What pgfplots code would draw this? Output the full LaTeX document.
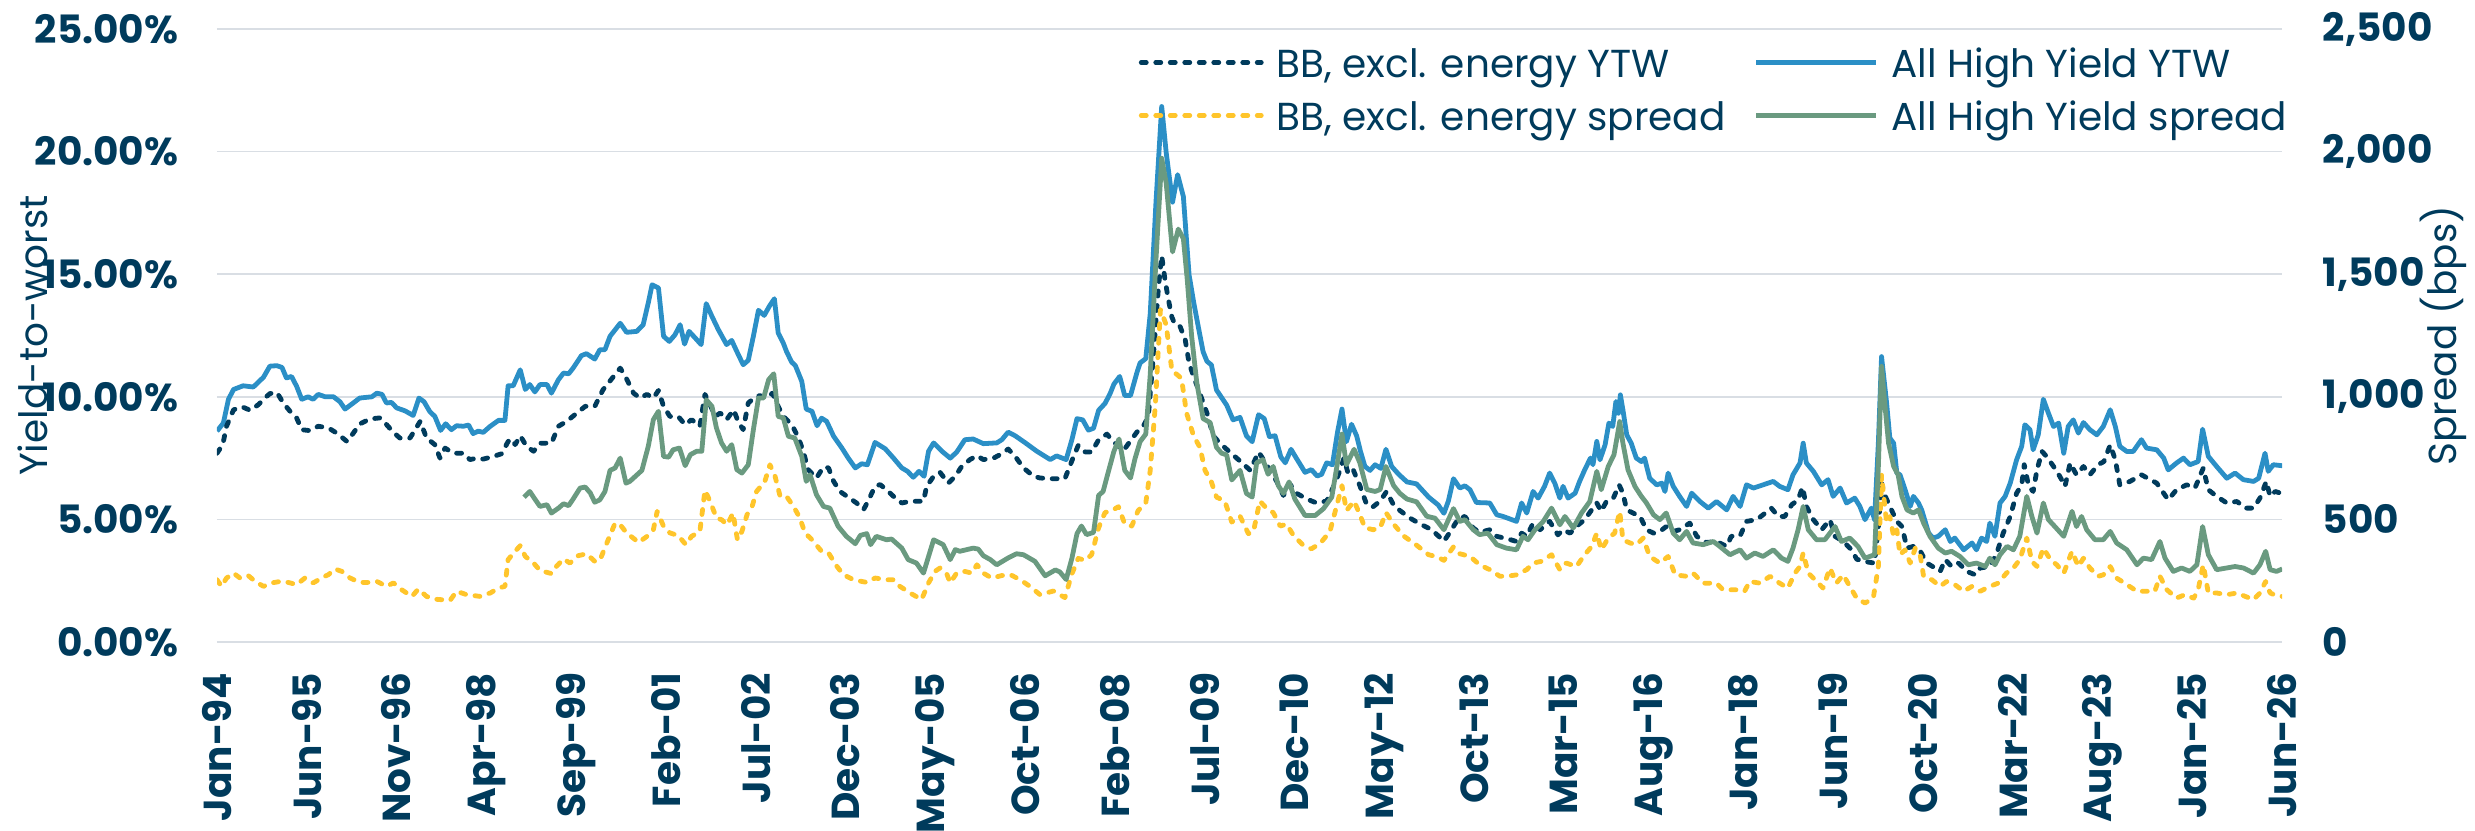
\documentclass[border=0pt]{standalone}
\usepackage{fontspec}
\setmainfont{Poppins}
\usepackage{pgfplots}
\pgfplotsset{compat=1.18}
\definecolor{navy}{HTML}{003B5C}
\definecolor{hyblue}{HTML}{2B8FC6}
\definecolor{hygreen}{HTML}{6A9A80}
\definecolor{bbyellow}{HTML}{FFC52B}
\definecolor{gridgray}{HTML}{D9DEE4}
\newcommand{\chartfont}{\fontsize{11.1pt}{13pt}\selectfont}
\pgfplotsset{
  base/.style={
    scale only axis, width=206.5mm, height=61.3mm,
    xmin=1994, xmax=2026.4167,
    axis line style={draw=none}, tick style={draw=none}, major tick length=0pt,
    tick label style={inner sep=0pt, text=navy, font=\chartfont\bfseries},
    label style={inner sep=0pt, text=navy, font=\chartfont},
  },
  bbytw/.style={navy, line width=0.48mm, line cap=round, line join=round, dash pattern=on 0.5mm off 0.95mm},
  bbspr/.style={bbyellow, line width=0.48mm, line cap=round, line join=round, dash pattern=on 0.5mm off 0.95mm},
  hyytw/.style={hyblue, line width=0.48mm, line join=round},
  hyspr/.style={hygreen, line width=0.48mm, line join=round},
}
\begin{document}
\begin{tikzpicture}
\begin{axis}[base,
  ymin=0, ymax=25,
  ytick={0,5,10,15,20,25},
  yticklabels={0.00\%,5.00\%,10.00\%,15.00\%,20.00\%,25.00\%},
  yticklabel shift=3.8mm,
  ymajorgrids, grid style={gridgray, line width=0.15mm},
  xtick={1994.000,1995.409,1996.819,1998.228,1999.638,2001.047,2002.457,2003.866,2005.275,2006.685,2008.094,2009.504,2010.913,2012.323,2013.732,2015.141,2016.551,2017.960,2019.370,2020.779,2022.188,2023.598,2025.007,2026.417},
  xticklabels={Jan-94,Jun-95,Nov-96,Apr-98,Sep-99,Feb-01,Jul-02,Dec-03,May-05,Oct-06,Feb-08,Jul-09,Dec-10,May-12,Oct-13,Mar-15,Aug-16,Jan-18,Jun-19,Oct-20,Mar-22,Aug-23,Jan-25,Jun-26},
  xticklabel style={rotate=90, anchor=east},
  xticklabel shift=3mm,
  ylabel={Yield-to-worst},
  ylabel style={at={(axis description cs:-0.0814,0.5)}, anchor=south},
]
% All High Yield YTW
\addplot[hyytw] coordinates {
(1994.00,8.6)(1994.10,8.93)(1994.18,9.9)(1994.26,10.3)(1994.41,10.45)(1994.57,10.4)(1994.73,10.8)(1994.83,11.25)(1994.94,11.27)(1995.02,11.2)(1995.09,10.77)(1995.17,10.83)(1995.25,10.43)(1995.33,9.9)(1995.43,10.0)(1995.51,9.9)(1995.59,10.1)(1995.70,10.0)(1995.83,10.0)(1995.93,9.8)(1996.01,9.5)(1996.14,9.75)(1996.24,9.95)(1996.43,10.0)(1996.51,10.15)(1996.59,10.1)(1996.66,9.75)(1996.74,9.77)(1996.82,9.55)(1996.95,9.43)(1997.08,9.24)(1997.17,9.95)(1997.25,9.8)(1997.34,9.4)(1997.42,9.2)(1997.51,8.63)(1997.59,8.9)(1997.68,8.66)(1997.76,8.82)(1997.87,8.8)(1997.95,8.85)(1998.02,8.5)(1998.10,8.6)(1998.18,8.55)(1998.29,8.8)(1998.42,9.04)(1998.52,9.04)(1998.57,10.45)(1998.65,10.45)(1998.76,11.1)(1998.84,10.3)(1998.91,10.5)(1998.99,10.2)(1999.07,10.5)(1999.18,10.5)(1999.25,10.15)(1999.36,10.7)(1999.44,10.97)(1999.52,10.94)(1999.59,11.17)(1999.72,11.68)(1999.80,11.76)(1999.93,11.54)(2000.01,11.92)(2000.09,11.92)(2000.17,12.47)
(2000.33,13.0)(2000.43,12.63)(2000.59,12.67)(2000.69,12.94)(2000.77,13.83)(2000.83,14.57)(2000.93,14.44)(2001.01,12.47)(2001.10,12.26)(2001.19,12.53)(2001.27,12.94)(2001.34,12.15)(2001.41,12.67)(2001.50,12.42)(2001.60,12.13)(2001.68,13.8)(2001.77,13.28)(2001.87,12.74)(2002.00,12.13)(2002.08,12.3)(2002.16,11.85)(2002.26,11.31)(2002.34,11.49)(2002.42,12.47)(2002.50,13.53)(2002.59,13.32)(2002.67,13.69)(2002.75,14.0)(2002.81,12.6)(2002.89,12.19)(2002.94,11.85)(2003.02,11.42)(2003.08,11.27)(2003.18,10.63)(2003.25,9.5)(2003.34,9.41)(2003.42,8.82)(2003.49,9.13)(2003.57,9.0)(2003.68,8.39)(2003.81,7.91)(2003.91,7.5)(2004.02,7.1)(2004.12,7.27)(2004.21,7.23)(2004.33,8.14)(2004.49,7.88)(2004.62,7.5)(2004.75,7.1)(2004.84,6.96)(2004.93,6.72)(2005.02,6.96)(2005.10,6.76)(2005.17,7.78)(2005.25,8.12)(2005.38,7.78)(2005.51,7.5)(2005.61,7.74)(2005.74,8.25)(2005.87,8.28)(2006.03,8.09)(2006.24,8.12)(2006.32,8.25)(2006.42,8.56)(2006.53,8.41)(2006.68,8.14)(2006.87,7.78)
(2007.08,7.44)(2007.18,7.59)(2007.33,7.44)(2007.42,8.25)(2007.50,9.11)(2007.59,9.06)(2007.68,8.64)(2007.76,8.72)(2007.84,9.45)(2007.94,9.73)(2008.02,10.13)(2008.08,10.52)(2008.17,10.83)(2008.25,10.05)(2008.34,10.05)(2008.44,10.98)(2008.49,11.38)(2008.58,11.56)(2008.65,13.4)(2008.74,17.94)(2008.83,21.84)(2008.90,19.97)(2009.00,17.94)(2009.08,19.06)(2009.17,18.17)(2009.22,16.38)(2009.26,14.97)(2009.33,13.88)(2009.41,12.78)(2009.48,11.84)(2009.54,11.45)(2009.61,11.3)(2009.69,10.28)(2009.77,9.97)(2009.85,9.66)(2009.95,9.06)(2010.06,9.16)(2010.16,8.41)(2010.25,8.17)(2010.35,9.27)(2010.44,9.11)(2010.52,8.38)(2010.61,8.41)(2010.70,7.55)(2010.77,7.31)(2010.86,7.86)(2010.95,7.47)(2011.08,6.92)(2011.18,7.03)(2011.27,6.77)(2011.34,6.84)(2011.42,7.31)(2011.51,7.23)(2011.59,8.56)(2011.66,9.5)(2011.73,8.17)(2011.81,8.88)(2011.89,8.41)(2011.95,7.78)(2012.02,7.16)(2012.10,7.0)(2012.18,7.23)(2012.27,7.08)(2012.35,7.86)(2012.44,7.16)(2012.55,6.84)(2012.68,6.53)(2012.83,6.45)(2013.02,5.91)(2013.17,5.59)(2013.26,5.25)(2013.33,5.75)(2013.41,6.66)
(2013.51,6.28)(2013.59,6.37)(2013.67,6.21)(2013.77,5.69)(2013.98,5.67)(2014.09,5.19)(2014.19,5.12)(2014.40,4.92)(2014.48,5.67)(2014.56,5.26)(2014.66,6.14)(2014.74,5.87)(2014.84,6.35)(2014.92,6.89)(2015.00,6.48)(2015.08,5.87)(2015.13,6.35)(2015.21,5.87)(2015.32,6.07)(2015.39,6.55)(2015.47,7.02)(2015.56,7.5)(2015.60,7.23)(2015.66,8.18)(2015.71,7.43)(2015.79,8.04)(2015.85,8.93)(2015.91,8.79)(2015.96,9.81)(2016.00,9.33)(2016.03,10.08)(2016.07,9.47)(2016.13,8.45)(2016.20,8.11)(2016.28,7.5)(2016.36,7.36)(2016.41,7.5)(2016.49,6.68)(2016.60,6.41)(2016.68,6.48)(2016.73,6.14)(2016.78,6.89)(2016.86,6.35)(2016.96,5.94)(2017.07,5.53)(2017.15,6.07)(2017.28,5.73)(2017.41,5.46)(2017.54,5.73)(2017.70,5.39)(2017.80,5.94)(2017.91,5.53)(2018.01,6.41)(2018.12,6.28)(2018.27,6.41)(2018.43,6.55)(2018.53,6.35)(2018.66,6.21)(2018.74,6.82)(2018.85,7.3)(2018.90,8.11)(2018.95,7.3)(2019.06,6.96)(2019.19,6.41)(2019.29,6.62)(2019.37,5.94)(2019.48,6.28)(2019.58,5.67)(2019.71,5.87)(2019.79,5.53)(2019.87,4.99)(2019.97,5.46)(2020.02,4.99)(2020.08,8.11)
(2020.13,11.64)(2020.21,9.74)(2020.26,8.32)(2020.32,8.11)(2020.37,6.89)(2020.42,6.82)(2020.50,6.21)(2020.58,5.53)(2020.63,5.94)(2020.71,5.67)(2020.76,5.39)(2020.87,4.44)(2020.94,4.24)(2021.02,4.31)(2021.13,4.58)(2021.21,4.1)(2021.28,4.24)(2021.42,3.76)(2021.55,4.04)(2021.62,3.76)(2021.70,4.24)(2021.78,4.1)(2021.83,4.85)(2021.91,4.31)(2021.99,5.67)(2022.07,5.94)(2022.15,6.48)(2022.25,7.43)(2022.33,7.98)(2022.38,8.86)(2022.46,8.66)(2022.51,7.84)(2022.59,8.45)(2022.67,9.9)(2022.75,9.33)(2022.83,8.79)(2022.91,8.93)(2022.99,7.7)(2023.06,8.79)(2023.14,9.06)(2023.22,8.52)(2023.30,8.95)(2023.40,8.66)(2023.51,8.45)(2023.61,8.79)(2023.72,9.47)(2023.80,8.79)(2023.87,7.98)(2023.98,7.77)(2024.08,7.77)(2024.21,8.25)(2024.29,7.91)(2024.45,7.84)(2024.56,7.5)(2024.63,7.02)(2024.76,7.3)(2024.87,7.5)(2024.97,7.23)(2025.10,7.36)(2025.17,8.68)(2025.26,7.57)(2025.39,7.16)(2025.55,6.68)(2025.68,6.89)(2025.81,6.62)(2025.97,6.55)(2026.05,6.68)(2026.15,7.7)(2026.20,6.96)(2026.28,7.23)(2026.42,7.19)
};
% BB excl. energy YTW
\addplot[bbytw] coordinates {
(1994.00,7.7)(1994.09,8.05)(1994.15,8.8)(1994.26,9.47)(1994.39,9.6)(1994.52,9.45)(1994.65,9.68)(1994.75,9.95)(1994.83,10.13)(1994.94,10.18)(1995.04,9.75)(1995.15,9.4)(1995.25,9.14)(1995.33,8.66)(1995.46,8.62)(1995.59,8.8)(1995.75,8.73)(1995.88,8.52)(1996.04,8.18)(1996.14,8.52)(1996.24,8.89)(1996.40,9.1)(1996.56,9.14)(1996.64,8.93)(1996.77,8.55)(1996.87,8.32)(1997.03,8.32)(1997.11,8.66)(1997.19,9.0)(1997.29,8.32)(1997.42,8.05)(1997.50,7.5)(1997.58,7.91)(1997.71,7.7)(1997.87,7.7)(1997.97,7.44)(1998.08,7.5)(1998.18,7.46)(1998.34,7.57)(1998.47,7.68)(1998.57,8.18)(1998.63,8.28)(1998.68,8.05)(1998.76,8.41)(1998.86,7.98)(1998.97,7.78)(1999.07,8.11)(1999.25,8.11)(1999.36,8.8)(1999.49,9.0)(1999.65,9.34)(1999.78,9.61)(1999.93,9.61)(2000.06,10.29)
(2000.33,11.17)(2000.41,10.83)(2000.54,10.15)(2000.64,9.95)(2000.75,10.1)(2000.85,9.95)(2000.93,10.26)(2001.01,9.61)(2001.11,9.2)(2001.24,9.2)(2001.35,8.86)(2001.45,9.07)(2001.58,8.8)(2001.66,10.1)(2001.74,9.68)(2001.82,9.2)(2001.90,9.34)(2002.00,9.07)(2002.11,9.47)(2002.18,9.0)(2002.26,8.66)(2002.34,9.75)(2002.45,9.99)(2002.52,10.05)(2002.63,9.95)(2002.72,10.15)(2002.81,9.61)(2002.89,9.2)(2002.97,9.0)(2003.05,8.73)(2003.13,8.32)(2003.21,7.71)(2003.28,7.03)(2003.41,6.69)(2003.52,7.14)(2003.60,7.1)(2003.68,6.55)(2003.78,6.14)(2003.89,5.94)(2004.04,5.67)(2004.15,5.4)(2004.23,5.8)(2004.33,6.35)(2004.41,6.42)(2004.51,6.21)(2004.62,5.94)(2004.75,5.67)(2004.88,5.74)(2005.09,5.74)(2005.14,6.35)(2005.25,6.76)(2005.35,6.92)(2005.48,6.48)(2005.59,6.76)(2005.69,7.16)(2005.82,7.44)(2005.93,7.6)(2006.03,7.44)(2006.19,7.5)(2006.32,7.68)(2006.42,7.87)(2006.53,7.57)(2006.66,7.1)(2006.82,6.76)
(2006.92,6.69)(2007.08,6.66)(2007.31,6.66)(2007.42,7.39)(2007.52,8.02)(2007.63,7.75)(2007.73,7.75)(2007.84,8.25)(2007.97,8.48)(2008.07,8.17)(2008.23,7.81)(2008.33,8.17)(2008.44,8.56)(2008.54,8.8)(2008.62,9.19)(2008.70,11.69)(2008.78,14.5)(2008.83,15.75)(2008.88,14.81)(2008.93,14.03)(2008.99,13.25)(2009.04,12.94)(2009.12,12.86)(2009.20,12.31)(2009.26,11.38)(2009.33,10.83)(2009.43,10.13)(2009.54,9.34)(2009.64,8.41)(2009.75,8.09)(2009.85,7.86)(2009.95,7.63)(2010.09,7.31)(2010.22,7.0)(2010.35,7.75)(2010.44,7.39)(2010.53,7.0)(2010.64,6.53)(2010.74,5.98)(2010.84,6.45)(2010.95,6.06)(2011.11,5.83)(2011.26,5.67)(2011.42,5.75)(2011.52,6.3)(2011.63,7.0)(2011.69,7.5)(2011.76,6.84)(2011.84,7.0)(2011.94,6.38)(2012.05,5.59)(2012.15,5.52)(2012.26,5.75)(2012.36,6.14)(2012.47,5.59)(2012.57,5.36)(2012.73,5.05)(2012.89,4.81)(2013.07,4.58)(2013.26,4.11)(2013.36,4.5)(2013.49,5.05)
(2013.59,5.12)(2013.72,4.65)(2013.82,4.47)(2013.98,4.58)(2014.09,4.31)(2014.27,4.2)(2014.40,4.1)(2014.48,4.44)(2014.56,4.31)(2014.66,4.85)(2014.77,4.58)(2014.92,4.92)(2015.05,4.37)(2015.13,4.58)(2015.24,4.44)(2015.37,4.78)(2015.47,4.99)(2015.58,5.39)(2015.66,5.67)(2015.73,5.33)(2015.81,5.73)(2015.92,5.87)(2016.01,6.41)(2016.07,6.07)(2016.13,5.39)(2016.23,5.26)(2016.34,5.12)(2016.44,4.58)(2016.55,4.44)(2016.65,4.51)(2016.75,4.71)(2016.86,4.51)(2016.96,4.58)(2017.12,4.85)(2017.23,4.31)(2017.38,4.06)(2017.54,4.1)(2017.70,3.9)(2017.77,4.31)(2017.91,4.33)(2018.01,4.92)(2018.17,4.99)(2018.27,5.19)(2018.40,5.46)(2018.51,5.12)(2018.61,5.12)(2018.72,5.6)(2018.82,5.8)(2018.89,6.32)(2018.95,5.53)(2019.06,4.99)(2019.19,4.58)(2019.32,4.99)(2019.40,4.31)(2019.53,4.1)(2019.66,3.76)(2019.74,3.38)(2019.84,3.29)(2020.02,3.22)(2020.08,4.71)
(2020.13,6.48)(2020.19,5.94)(2020.26,5.53)(2020.37,4.92)(2020.45,4.71)(2020.53,3.83)(2020.63,3.9)(2020.74,3.7)(2020.84,3.22)(2020.97,3.02)(2021.05,2.88)(2021.13,3.36)(2021.23,3.08)(2021.34,3.22)(2021.47,2.88)(2021.60,2.74)(2021.68,3.02)(2021.83,3.08)(2021.94,3.63)(2022.04,4.44)(2022.15,5.12)(2022.25,6.07)(2022.33,6.41)(2022.37,7.23)(2022.44,6.35)(2022.51,6.14)(2022.57,7.02)(2022.65,7.77)(2022.72,7.57)(2022.83,7.16)(2022.93,6.75)(2023.01,6.35)(2023.09,7.3)(2023.19,6.82)(2023.30,7.16)(2023.40,6.82)(2023.53,7.23)(2023.62,7.36)(2023.72,8.04)(2023.80,7.43)(2023.87,6.41)(2024.03,6.55)(2024.21,6.82)(2024.35,6.62)(2024.45,6.48)(2024.63,5.8)(2024.76,6.21)(2024.92,6.41)(2025.05,6.28)(2025.18,7.09)(2025.26,6.21)(2025.39,5.94)(2025.55,5.67)(2025.71,5.73)(2025.84,5.46)(2025.97,5.46)(2026.07,5.87)(2026.17,6.55)(2026.23,5.94)(2026.31,6.14)(2026.42,6.05)
};
\end{axis}
\begin{axis}[base,
  ymin=0, ymax=2500,
  axis x line=none,
  axis y line*=right,
  axis line style={draw=none},
  ytick={0,500,1000,1500,2000,2500},
  yticklabels={0,500,{1,000},{1,500},{2,000},{2,500}},
  yticklabel shift=4mm,
  ylabel={Spread (bps)},
  ylabel style={at={(axis description cs:1.0896,0.5)}, anchor=south},
  legend columns=2,
  legend cell align=left,
  legend image code/.code={\draw[#1] (0cm,0cm) -- (1.2cm,0cm);},
  legend style={at={(axis description cs:1.0024,0.969)}, anchor=north east,
    draw=none, fill=none, inner sep=0pt, outer sep=0pt,
    nodes={inner sep=0pt, text height=2.9mm, text depth=0mm, font=\chartfont, text=navy},
    row sep=2.4mm,
    /tikz/every odd column/.append style={column sep=1.3mm},
    /tikz/every even column/.append style={column sep=2.8mm}},
]
\addlegendimage{bbytw}
\addlegendentry{BB, excl. energy YTW}
\addlegendimage{hyytw}
\addlegendentry{All High Yield YTW}
% BB excl. energy spread
\addplot[bbspr] coordinates {
(1994.00,254)(1994.07,227)(1994.15,261)(1994.26,281)(1994.36,261)(1994.49,271)(1994.60,247)(1994.73,227)(1994.86,241)(1994.99,247)(1995.12,243)(1995.25,234)(1995.38,261)(1995.51,241)(1995.64,261)(1995.75,275)(1995.85,298)(1995.96,288)(1996.09,261)(1996.24,243)(1996.38,243)(1996.51,247)(1996.66,227)(1996.77,241)(1996.90,213)(1997.06,186)(1997.16,216)(1997.29,186)(1997.40,175)(1997.66,170)(1997.76,207)(1997.92,193)(1998.13,186)(1998.29,200)(1998.42,220)(1998.52,227)(1998.57,336)(1998.68,370)(1998.76,393)(1998.84,349)(1998.97,322)(1999.07,292)(1999.25,279)(1999.33,309)(1999.44,339)(1999.54,322)(1999.67,352)(1999.80,360)(1999.93,329)(2000.01,333)(2000.12,404)(2000.25,485)
(2000.33,478)(2000.43,445)(2000.62,406)(2000.75,431)(2000.85,458)(2000.91,533)(2001.01,472)(2001.11,445)(2001.24,434)(2001.36,397)(2001.45,431)(2001.58,451)(2001.66,619)(2001.74,574)(2001.84,506)(2001.92,499)(2002.01,478)(2002.10,526)(2002.17,417)(2002.24,451)(2002.32,519)(2002.40,553)(2002.47,614)(2002.60,655)(2002.68,723)(2002.76,676)(2002.84,594)(2002.94,594)(2003.05,553)(2003.15,506)(2003.23,445)(2003.34,417)(2003.49,370)(2003.60,363)(2003.73,309)(2003.83,275)(2003.99,254)(2004.20,243)(2004.33,261)(2004.51,254)(2004.62,254)(2004.72,227)(2004.88,200)(2005.06,173)(2005.17,241)(2005.27,288)(2005.35,302)(2005.46,275)(2005.51,241)(2005.61,281)(2005.74,288)(2005.85,281)(2005.93,315)(2006.03,281)(2006.16,261)(2006.32,271)(2006.45,275)(2006.61,254)(2006.76,227)(2006.92,193)
(2007.13,208)(2007.31,181)(2007.42,278)(2007.52,341)(2007.63,333)(2007.73,356)(2007.84,466)(2007.94,528)(2008.05,536)(2008.15,552)(2008.25,481)(2008.36,473)(2008.46,536)(2008.58,567)(2008.65,700)(2008.73,966)(2008.81,1356)(2008.90,1294)(2008.99,1106)(2009.07,1091)(2009.14,1075)(2009.22,934)(2009.33,841)(2009.43,794)(2009.51,700)(2009.61,653)(2009.69,591)(2009.82,575)(2009.93,489)(2010.06,513)(2010.19,442)(2010.27,450)(2010.37,575)(2010.48,544)(2010.58,528)(2010.69,473)(2010.79,481)(2010.90,434)(2011.05,395)(2011.18,380)(2011.32,403)(2011.47,450)(2011.58,559)(2011.66,638)(2011.73,536)(2011.85,575)(2011.94,520)(2012.02,466)(2012.15,458)(2012.26,466)(2012.35,528)(2012.47,481)(2012.62,434)(2012.83,395)(2013.02,356)(2013.15,348)(2013.26,333)(2013.41,388)
(2013.51,360)(2013.67,349)(2013.82,315)(2013.98,295)(2014.14,268)(2014.30,270)(2014.40,274)(2014.56,295)(2014.66,322)(2014.79,329)(2014.95,356)(2015.08,295)(2015.18,322)(2015.34,308)(2015.47,356)(2015.58,390)(2015.66,444)(2015.73,376)(2015.84,424)(2015.94,444)(2016.02,533)(2016.07,417)(2016.18,404)(2016.28,397)(2016.39,424)(2016.49,349)(2016.65,322)(2016.78,349)(2016.89,274)(2017.07,268)(2017.17,281)(2017.33,240)(2017.54,240)(2017.64,213)(2017.85,213)(2017.98,207)(2018.06,247)(2018.22,240)(2018.38,268)(2018.53,240)(2018.66,220)(2018.77,281)(2018.85,308)(2018.90,363)(2018.98,281)(2019.14,240)(2019.21,220)(2019.32,302)(2019.42,240)(2019.53,274)(2019.63,227)(2019.74,179)(2019.87,159)(2020.00,179)(2020.08,308)
(2020.13,680)(2020.17,580)(2020.21,485)(2020.26,512)(2020.32,431)(2020.37,458)(2020.42,356)(2020.50,376)(2020.58,322)(2020.66,383)(2020.74,349)(2020.79,268)(2020.92,254)(2021.05,227)(2021.15,247)(2021.28,234)(2021.42,207)(2021.55,227)(2021.68,207)(2021.83,227)(2021.96,240)(2022.09,281)(2022.20,302)(2022.30,336)(2022.41,424)(2022.49,329)(2022.57,308)(2022.67,383)(2022.78,336)(2022.88,315)(2022.99,281)(2023.12,370)(2023.22,308)(2023.30,342)(2023.40,302)(2023.53,268)(2023.61,274)(2023.72,308)(2023.82,261)(2023.98,234)(2024.14,207)(2024.29,207)(2024.42,207)(2024.50,268)(2024.61,213)(2024.76,179)(2024.89,193)(2025.03,179)(2025.10,213)(2025.18,315)(2025.26,200)(2025.39,200)(2025.55,193)(2025.71,200)(2025.84,186)(2025.97,173)(2026.07,200)(2026.16,247)(2026.23,200)(2026.33,189)(2026.42,186)
};
\addlegendentry{BB, excl. energy spread}
% All High Yield spread
\addplot[hyspr] coordinates {
(1998.82,591)(1998.91,614)(1998.99,583)(1999.07,553)(1999.18,560)(1999.25,526)(1999.36,546)(1999.44,564)(1999.52,556)(1999.59,583)(1999.70,628)(1999.78,632)(1999.86,608)(1999.93,570)(2000.01,580)(2000.09,614)(2000.17,700)(2000.25,710)
(2000.33,750)(2000.42,648)(2000.48,655)(2000.67,700)(2000.77,798)(2000.85,907)(2000.93,941)(2001.01,757)(2001.09,754)(2001.16,784)(2001.26,791)(2001.35,719)(2001.43,764)(2001.53,778)(2001.61,778)(2001.68,988)(2001.77,961)(2001.84,873)(2001.92,812)(2002.00,778)(2002.08,805)(2002.16,703)(2002.24,689)(2002.34,723)(2002.42,866)(2002.50,995)(2002.58,995)(2002.66,1070)(2002.74,1094)(2002.81,920)(2002.89,914)(2002.97,839)(2003.07,832)(2003.18,757)(2003.25,655)(2003.31,682)(2003.41,601)(2003.52,553)(2003.62,546)(2003.75,472)(2003.88,431)(2004.02,401)(2004.10,435)(2004.20,442)(2004.26,397)(2004.35,431)(2004.51,417)(2004.59,420)(2004.75,383)(2004.85,336)(2004.98,322)(2005.09,281)(2005.25,417)(2005.40,397)(2005.51,336)(2005.59,377)(2005.66,370)(2005.87,383)(2005.95,379)(2006.03,352)(2006.14,336)(2006.24,315)(2006.42,343)(2006.55,360)(2006.66,356)(2006.84,329)
(2007.00,270)(2007.16,294)(2007.23,286)(2007.33,255)(2007.42,341)(2007.50,442)(2007.57,473)(2007.65,438)(2007.76,447)(2007.84,598)(2007.91,614)(2007.99,692)(2008.08,778)(2008.16,828)(2008.25,700)(2008.34,669)(2008.41,747)(2008.49,817)(2008.58,848)(2008.65,1091)(2008.74,1559)(2008.83,1973)(2008.90,1872)(2009.00,1591)(2009.09,1684)(2009.17,1645)(2009.23,1481)(2009.30,1247)(2009.38,1059)(2009.48,911)(2009.59,895)(2009.69,794)(2009.77,770)(2009.85,763)(2009.93,661)(2010.06,700)(2010.16,606)(2010.25,591)(2010.32,731)(2010.42,744)(2010.50,684)(2010.58,716)(2010.66,638)(2010.74,606)(2010.83,653)(2010.92,583)(2011.08,516)(2011.24,516)(2011.37,544)(2011.50,591)(2011.58,716)(2011.66,848)(2011.73,723)(2011.85,786)(2011.94,731)(2012.05,622)(2012.18,614)(2012.26,622)(2012.35,716)(2012.47,638)(2012.57,606)(2012.68,583)(2012.83,572)(2012.99,513)(2013.12,505)(2013.26,458)(2013.41,544)
(2013.51,492)(2013.59,499)(2013.72,458)(2013.82,438)(2013.95,444)(2014.09,397)(2014.24,383)(2014.40,376)(2014.50,431)(2014.58,417)(2014.69,458)(2014.82,492)(2014.95,546)(2015.08,478)(2015.16,512)(2015.29,465)(2015.42,526)(2015.55,573)(2015.66,696)(2015.73,621)(2015.84,716)(2015.93,764)(2015.98,838)(2016.02,899)(2016.07,811)(2016.15,702)(2016.26,634)(2016.36,594)(2016.44,567)(2016.55,519)(2016.65,499)(2016.75,526)(2016.86,444)(2016.96,417)(2017.07,451)(2017.17,404)(2017.33,397)(2017.49,410)(2017.59,390)(2017.75,356)(2017.91,376)(2018.01,342)(2018.14,363)(2018.27,349)(2018.43,376)(2018.56,342)(2018.66,329)(2018.74,383)(2018.82,458)(2018.90,553)(2018.98,458)(2019.11,417)(2019.24,417)(2019.40,471)(2019.50,410)(2019.63,424)(2019.76,390)(2019.87,342)(2020.02,356)(2020.08,716)
(2020.13,1124)(2020.19,947)(2020.24,811)(2020.32,716)(2020.39,682)(2020.45,594)(2020.53,539)(2020.63,526)(2020.71,539)(2020.79,485)(2020.89,431)(2021.02,383)(2021.13,363)(2021.23,370)(2021.36,349)(2021.49,315)(2021.62,322)(2021.76,308)(2021.83,342)(2021.91,315)(2021.99,356)(2022.10,390)(2022.20,376)(2022.30,431)(2022.41,594)(2022.49,512)(2022.57,444)(2022.67,567)(2022.75,499)(2022.85,471)(2022.99,431)(2023.12,533)(2023.19,471)(2023.27,512)(2023.35,458)(2023.48,417)(2023.61,417)(2023.72,451)(2023.82,404)(2023.98,376)(2024.14,315)(2024.24,342)(2024.37,336)(2024.50,410)(2024.58,342)(2024.71,288)(2024.84,302)(2024.97,288)(2025.08,315)(2025.17,471)(2025.26,356)(2025.39,295)(2025.55,302)(2025.68,308)(2025.81,302)(2025.97,281)(2026.07,315)(2026.16,370)(2026.23,295)(2026.33,288)(2026.42,298)
};
\addlegendentry{All High Yield spread}
\end{axis}
\pgfresetboundingbox
\path[use as bounding box] (-21.7mm,-18.8mm) rectangle (225.8mm,64.2mm);
\end{tikzpicture}
\end{document}
